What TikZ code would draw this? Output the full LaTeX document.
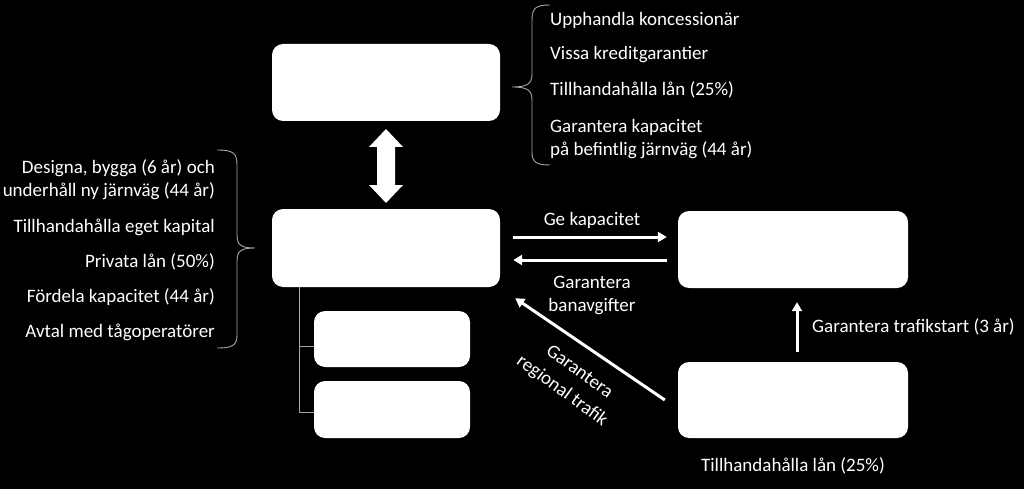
\documentclass[tikz,border=0pt]{standalone}
\usepackage{fontspec}
\setmainfont{Carlito}
\usetikzlibrary{arrows.meta,calc}
\definecolor{linegray}{RGB}{165,165,165}
\begin{document}
\begin{tikzpicture}[x=1pt,y=-1pt,
  box/.style={fill=white, draw=none, rounded corners=11pt, inner sep=0pt},
  txt/.style={text=white, font=\fontsize{19}{23}\selectfont, inner sep=0pt},
  arr/.style={draw=white, line width=3pt, -{Triangle[length=9pt,width=10pt]}},
  brc/.style={draw=linegray, line width=0.9pt},
  conn/.style={draw=linegray, line width=1pt}]
\useasboundingbox (0,0) rectangle (1024,489);
\fill[black] (0,0) rectangle (1024,489);

% boxes
\node[box, minimum width=228pt, minimum height=77pt] (top) at (386,82.5) {};
\node[box, minimum width=228pt, minimum height=78pt] (mid) at (386,248) {};
\node[box, minimum width=230pt, minimum height=77pt] (rgt) at (793,249.5) {};
\node[box, minimum width=230pt, minimum height=76pt] (br) at (793,400) {};
\node[box, minimum width=156pt, minimum height=56pt] (s1) at (392,339) {};
\node[box, minimum width=156pt, minimum height=57pt] (s2) at (392,409.5) {};

% tree connector
\coordinate (tap) at (299,287);
\draw[conn] (tap) |- ([yshift=-3pt]s2.west);
\draw[conn] (tap |- s1.west) ++(0,7) -- ([yshift=-7pt]s1.west);

% double arrow between top and mid
\coordinate (dbl) at (386,166);
\fill[white] (dbl) ++(0,-37) -- ++(17,18) -- ++(-8,0) -- ++(0,38) -- ++(8,0)
  -- ++(-17,18) -- ++(-17,-18) -- ++(8,0) -- ++(0,-38) -- ++(-8,0) -- cycle;

% horizontal arrows
\draw[arr] ([xshift=13pt,yshift=11pt]mid.east) -- ([xshift=-11pt,yshift=11pt]mid.east -| rgt.west);
\draw[arr] ([xshift=-11pt,yshift=-12pt]mid.east -| rgt.west) -- ([xshift=13pt,yshift=-12pt]mid.east);
% diagonal
\draw[arr] ([xshift=-13pt]br.west) -- ([xshift=15pt,yshift=-11pt]mid.south east);
% vertical
\draw[arr] ([xshift=4pt,yshift=10pt]br.north) -- ([xshift=4pt,yshift=-14pt]rgt.south);

% top-right brace
\draw[brc] (550,5) .. controls (536,5) and (532,8) .. (532,20) -- (532,74)
  .. controls (532,84) and (527,87) .. (512,87)
  .. controls (527,87) and (532,90) .. (532,100) -- (532,152)
  .. controls (532,162) and (536,165) .. (550,165);
% left brace
\draw[brc] (217,150) .. controls (233,150) and (237,153) .. (237,165) -- (237,235)
  .. controls (237,245) and (241,248) .. (255,248)
  .. controls (241,248) and (237,251) .. (237,261) -- (237,335)
  .. controls (237,345) and (233,348) .. (217,348);

% top-right texts
\node[txt, anchor=west] (t1) at (550,20) {Upphandla koncessionär};
\node[txt, anchor=west] (t2) at (550,55) {Vissa kreditgarantier};
\node[txt, anchor=west] (t3) at (550,90) {Tillhandahålla lån (25\%)};
\node[txt, anchor=west, align=left] (t4) at (550,139) {Garantera kapacitet\\på befintlig järnväg (44 år)};

% left texts
\node[txt, anchor=east, align=right] (l1) at (215,180) {Designa, bygga (6 år) och\\underhåll ny järnväg (44 år)};
\node[txt, anchor=east] (l2) at (215,227) {Tillhandahålla eget kapital};
\node[txt, anchor=east] (l3) at (215,262) {Privata lån (50\%)};
\node[txt, anchor=east] (l4) at (215,297) {Fördela kapacitet (44 år)};
\node[txt, anchor=east] (l5) at (215,332) {Avtal med tågoperatörer};

% arrow labels
\node[txt] (g1) at (592,220) {Ge kapacitet};
\node[txt, align=center] (g2) at (592,295) {Garantera\\banavgifter};
\node[txt, anchor=west] (g3) at (812,327) {Garantera trafikstart (3 år)};
\node[txt] (g4) at (793,466) {Tillhandahålla lån (25\%)};
\node[txt, rotate=-36] (g5a) at (580,371) {Garantera};
\node[txt, rotate=-36] (g5b) at (562,391) {regional trafik};
\end{tikzpicture}
\end{document}
